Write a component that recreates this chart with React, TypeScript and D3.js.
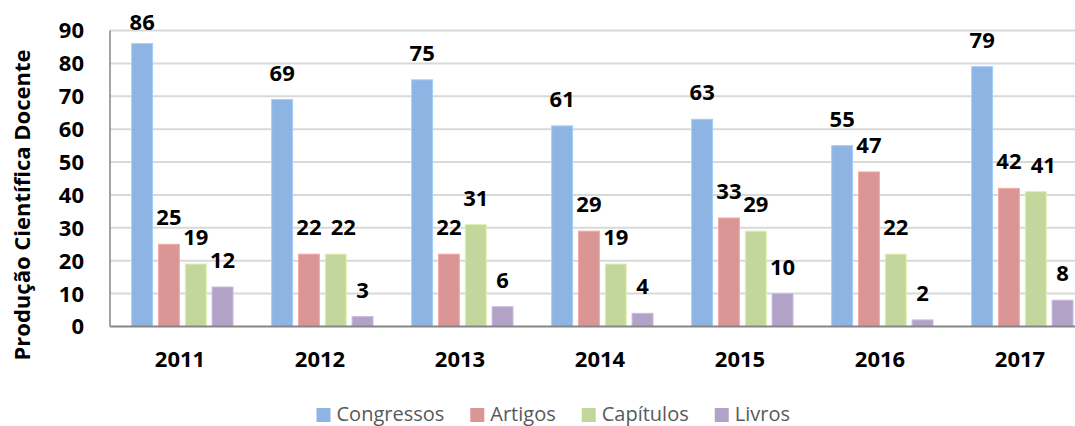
import React, { useRef, useEffect } from 'react';
import * as d3 from 'd3';

const years = ['2011', '2012', '2013', '2014', '2015', '2016', '2017'];
const seriesNames = ['Congressos', 'Artigos', 'Capítulos', 'Livros'];
const congressos = [86, 69, 75, 61, 63, 55, 79];
const artigos = [25, 22, 22, 29, 33, 47, 42];
const capitulos = [19, 22, 31, 19, 29, 22, 41];
const livros = [12, 3, 6, 4, 10, 2, 8];
const yTicks = [0, 10, 20, 30, 40, 50, 60, 70, 80, 90];
const colors = ['#8EB4E3', '#D99694', '#C3D69B', '#B3A2C7'];

const App = () => {
  const svgRef = useRef<SVGSVGElement>(null);

  useEffect(() => {
    const svg = d3.select(svgRef.current);
    svg.selectAll('*').remove();

    const width = 1075;
    const height = 426;
    const margin = { top: 30.5, right: -15, bottom: 99.5, left: 110 };
    const font = '"Open Sans", Lato, sans-serif';

    svg.attr('width', width).attr('height', height);

    const values = [congressos, artigos, capitulos, livros];
    const table = years.map((year, i) => ({
      year,
      items: seriesNames.map((name, s) => ({ name, value: values[s][i], color: colors[s] })),
    }));

    const x0 = d3.scaleBand()
      .domain(years)
      .range([margin.left, width - margin.right])
      .paddingInner(0)
      .paddingOuter(0);

    const x1 = d3.scaleBand()
      .domain(seriesNames)
      .range([21.7, x0.bandwidth() - 17])
      .paddingInner(0.22)
      .paddingOuter(0);

    const y = d3.scaleLinear()
      .domain([0, 90])
      .range([height - margin.bottom, margin.top]);

    // gridlines
    svg.append('g')
      .selectAll('line')
      .data(yTicks.slice(1))
      .join('line')
      .attr('x1', margin.left)
      .attr('x2', width)
      .attr('y1', d => y(d))
      .attr('y2', d => y(d))
      .attr('stroke', '#D9D9D9')
      .attr('stroke-width', 2);

    // y tick labels
    svg.append('g')
      .selectAll('text')
      .data(yTicks)
      .join('text')
      .attr('x', 84)
      .attr('y', d => y(d))
      .attr('dy', '0.36em')
      .attr('text-anchor', 'end')
      .attr('font-family', font)
      .attr('font-weight', 'bold')
      .attr('font-size', 22)
      .attr('fill', '#000')
      .text(d => d);

    // bars
    const groups = svg.append('g')
      .selectAll('g')
      .data(table)
      .join('g')
      .attr('transform', d => `translate(${x0(d.year)},0)`);

    groups.selectAll('rect')
      .data(d => d.items)
      .join('rect')
      .attr('x', d => x1(d.name)!)
      .attr('y', d => y(d.value))
      .attr('width', x1.bandwidth())
      .attr('height', d => y(0) - y(d.value))
      .attr('fill', d => d.color)
      .attr('stroke', d => d3.color(d.color)!.brighter(0.35).toString())
      .attr('stroke-width', 1);

    // value labels, nudged right when they would collide with the previous one
    const labelY = (v: number) => Math.max(y(v) - 19, y(90) - 1);
    groups.selectAll('text')
      .data(d => d.items.map((it, k) => {
        const prev = d.items[k - 1];
        const clash = prev && Math.abs(labelY(prev.value) - labelY(it.value)) < 12;
        return { ...it, shift: clash ? 7.5 : 0 };
      }))
      .join('text')
      .attr('x', d => x1(d.name)! + x1.bandwidth() / 2 + d.shift)
      .attr('y', d => labelY(d.value))
      .attr('text-anchor', 'middle')
      .attr('font-family', font)
      .attr('font-weight', 'bold')
      .attr('font-size', 22)
      .attr('fill', '#000')
      .text(d => d.value);

    // axes lines
    svg.append('line')
      .attr('x1', margin.left)
      .attr('x2', margin.left)
      .attr('y1', y(90))
      .attr('y2', y(0))
      .attr('stroke', '#868686')
      .attr('stroke-width', 1.5);

    svg.append('line')
      .attr('x1', margin.left)
      .attr('x2', width)
      .attr('y1', y(0))
      .attr('y2', y(0))
      .attr('stroke', '#868686')
      .attr('stroke-width', 2);

    // x labels
    svg.append('g')
      .selectAll('text')
      .data(years)
      .join('text')
      .attr('x', d => x0(d)! + x0.bandwidth() / 2)
      .attr('y', 367)
      .attr('text-anchor', 'middle')
      .attr('font-family', font)
      .attr('font-weight', 'bold')
      .attr('font-size', 22)
      .attr('fill', '#000')
      .text(d => d);

    // y axis title
    svg.append('text')
      .attr('transform', `translate(30,205) rotate(-90)`)
      .attr('text-anchor', 'middle')
      .attr('font-family', font)
      .attr('font-weight', 'bold')
      .attr('font-size', 22)
      .attr('fill', '#000')
      .text('Produção Científica Docente');

    // legend
    const legend = svg.append('g');
    let lx = 316.5;
    seriesNames.forEach((name, i) => {
      legend.append('rect')
        .attr('x', lx)
        .attr('y', 408)
        .attr('width', 14)
        .attr('height', 14)
        .attr('fill', colors[i]);
      const t = legend.append('text')
        .attr('x', lx + 20)
        .attr('y', 420.5)
        .attr('font-family', font)
        .attr('font-size', 20)
        .attr('fill', '#595959')
        .text(name);
      const w = (t.node() as SVGTextElement).getComputedTextLength();
      lx += 20 + w + 26;
    });
  }, []);

  return (
    <div style={{ position: 'absolute', left: 0, top: 0 }}>
      <svg ref={svgRef} style={{ display: 'block' }}></svg>
    </div>
  );
};

export default App;
